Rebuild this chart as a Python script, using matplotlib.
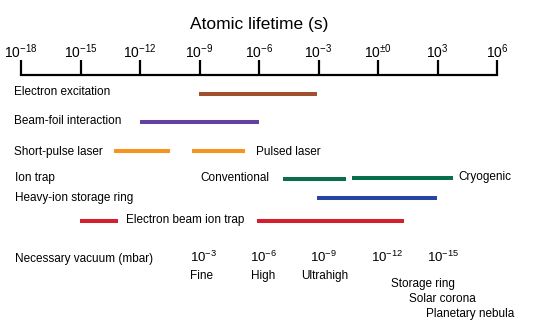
import matplotlib
matplotlib.use("Agg")
import matplotlib.pyplot as plt

plt.rcParams['font.family'] = ['Liberation Sans', 'DejaVu Sans']
plt.rcParams['mathtext.fontset'] = 'custom'
plt.rcParams['mathtext.rm'] = 'Liberation Sans'
plt.rcParams['mathtext.it'] = 'Liberation Sans'
plt.rcParams['mathtext.default'] = 'regular'

# ---- data ----
tick_exponents = [-18, -15, -12, -9, -6, -3, 0, 3, 6]
tick_labels = [r'$10^{-18}$', r'$10^{-15}$', r'$10^{-12}$', r'$10^{-9}$', r'$10^{-6}$',
               r'$10^{-3}$', r'$10^{\pm0}$', r'$10^{3}$', r'$10^{6}$']

bar_names = ['Electron excitation', 'Beam-foil interaction', 'Short-pulse laser', 'Pulsed laser',
             'Ion trap conventional', 'Ion trap cryogenic', 'Heavy-ion storage ring',
             'EBIT short', 'EBIT long']
bar_start_exp = [-9.0, -12.0, -13.3, -9.4, -4.8, -1.3, -3.1, -15.0, -6.1]
bar_end_exp = [-3.1, -6.0, -10.5, -6.7, -1.6, 3.8, 3.0, -13.1, 1.3]
bar_colors = ['#a0502f', '#6440a0', '#f7931e', '#f7931e', '#0a6e4a', '#0a6e4a', '#2445a0',
              '#d4202e', '#d4202e']
bar_rows = [94, 122, 151, 151, 179, 178, 198, 221, 221]

vacuum_labels = [r'$10^{-3}$', r'$10^{-6}$', r'$10^{-9}$', r'$10^{-12}$', r'$10^{-15}$']
vacuum_names = ['Fine', 'High', 'Ultrahigh']
vacuum_examples = ['Storage ring', 'Solar corona', 'Planetary nebula']

W, H = 550, 329
fig = plt.figure(figsize=(W / 100, H / 100), dpi=100)

# pixel mapping of axis
px_left, px_right = 21, 497
ppd = (px_right - px_left) / 24.0
xmin = -18 - px_left / ppd
xmax = 6 + (W - px_right) / ppd

ax = fig.add_axes([0, 0, 1, 1])
ax.set_xscale('log')
ax.set_xlim(10 ** xmin, 10 ** xmax)
ax.set_ylim(H, 0)
ax.axis('off')

# top axis
axis_y = 75
top = fig.add_axes([px_left / W, 1 - axis_y / H, (px_right - px_left) / W, 0.0001])
top.set_xscale('log')
top.set_xlim(1e-18, 1e6)
for s in ['left', 'right', 'bottom']:
    top.spines[s].set_visible(False)
top.spines['top'].set_linewidth(1.6)
top.set_yticks([])
top.xaxis.set_ticks_position('top')
top.xaxis.set_label_position('top')
top.set_xticks([10.0 ** e for e in tick_exponents])
top.set_xticklabels(tick_labels, fontsize=10)
top.minorticks_off()
top.tick_params(axis='x', which='major', direction='out', length=11, width=1.6, pad=-1)
top.set_xlabel('Atomic lifetime (s)', fontsize=12.5, labelpad=10)

# bars
for s, e, c, r in zip(bar_start_exp, bar_end_exp, bar_colors, bar_rows):
    ax.hlines(r, 10 ** s, 10 ** e, colors=c, linewidth=2.9)

def px(x):
    return 10 ** (xmin + x / ppd)

fs = 8.5
ax.text(px(14), 92, 'Electron excitation', fontsize=fs, va='center')
ax.text(px(14), 121, 'Beam-foil interaction', fontsize=fs, va='center')
ax.text(px(14), 152, 'Short-pulse laser', fontsize=fs, va='center')
ax.text(px(256), 152, 'Pulsed laser', fontsize=fs, va='center')
ax.text(px(15), 178, 'Ion trap', fontsize=fs, va='center')
ax.text(px(200), 178, 'Conventional', fontsize=fs, va='center')
ax.text(px(458), 177, 'Cryogenic', fontsize=fs, va='center')
ax.text(px(15), 198, 'Heavy-ion storage ring', fontsize=fs, va='center')
ax.text(px(126), 220, 'Electron beam ion trap', fontsize=fs, va='center')

ax.text(px(15), 259, 'Necessary vacuum (mbar)', fontsize=fs, va='center')
for lab, xc in zip(vacuum_labels, [204, 264, 323, 387, 443]):
    ax.text(px(xc), 257, lab, fontsize=9.5, va='center', ha='center')
for lab, xc in zip(vacuum_names, [202, 263, 325]):
    ax.text(px(xc), 276, lab, fontsize=fs, va='center', ha='center')
for lab, xc, yc in zip(vacuum_examples, [423, 442, 470], [284, 299, 314]):
    ax.text(px(xc), yc, lab, fontsize=fs, va='center', ha='center')

fig.savefig('out.png', dpi=100)
